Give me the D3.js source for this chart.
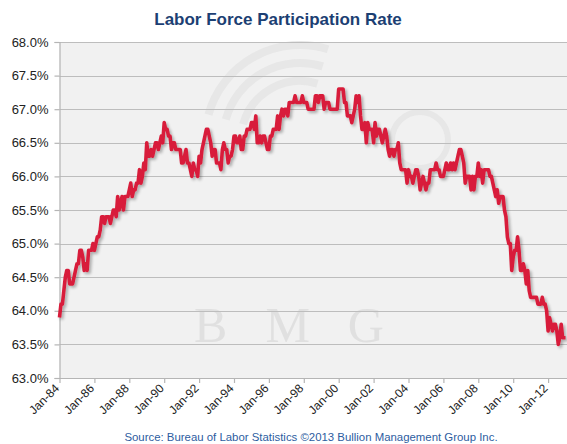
<!DOCTYPE html>
<html><head><meta charset="utf-8">
<script src="https://cdn.jsdelivr.net/npm/d3@7/dist/d3.min.js"></script>
<style>body{margin:0;background:#fff}svg{display:block}</style>
</head><body><svg id="c" width="567" height="444"></svg>
<script>
const chartTitle = "Labor Force Participation Rate";
const sourceNote = "Source: Bureau of Labor Statistics  \u00A92013 Bullion Management Group Inc.";
const startYear = 1984;
// monthly values, Jan-84 .. Jan-13
const rate1980s = [
 63.9,64.1,64.1,64.3,64.5,64.6,64.6,64.4,64.4,64.4,64.5,64.6,
 64.7,64.7,64.9,64.9,64.8,64.6,64.7,64.6,64.9,64.9,64.9,65.0,
 64.9,65.0,65.1,65.1,65.2,65.4,65.4,65.3,65.4,65.4,65.4,65.3,
 65.4,65.5,65.5,65.4,65.7,65.5,65.6,65.7,65.5,65.7,65.7,65.7,
 65.8,65.9,65.7,65.8,65.8,65.9,65.9,66.1,65.9,66.0,66.2,66.1,
 66.5,66.3,66.3,66.4,66.3,66.4,66.5,66.5,66.4,66.5,66.6,66.5];
const rate1990s = [
 66.8,66.7,66.7,66.6,66.6,66.4,66.5,66.5,66.4,66.4,66.4,66.4,
 66.2,66.2,66.3,66.4,66.2,66.2,66.1,66.0,66.2,66.1,66.1,66.0,
 66.3,66.2,66.4,66.5,66.6,66.7,66.7,66.6,66.5,66.3,66.4,66.4,
 66.2,66.2,66.2,66.1,66.4,66.5,66.4,66.4,66.2,66.3,66.3,66.4,
 66.6,66.6,66.5,66.5,66.6,66.4,66.4,66.6,66.6,66.7,66.7,66.7,
 66.8,66.8,66.7,66.9,66.5,66.5,66.6,66.5,66.6,66.6,66.5,66.4,
 66.4,66.6,66.6,66.7,66.7,66.7,66.9,66.7,66.9,67.0,66.9,67.0,
 67.0,66.9,67.1,67.1,67.1,67.1,67.2,67.1,67.1,67.1,67.1,67.2,
 67.1,67.1,67.1,67.0,67.0,67.0,67.0,67.0,67.2,67.2,67.1,67.2,
 67.2,67.2,67.0,67.1,67.1,67.1,67.0,67.0,67.0,67.0,67.0,67.0];
const rate2000s = [
 67.3,67.3,67.3,67.3,67.1,67.1,66.9,66.9,66.9,66.8,66.9,67.0,
 67.2,67.1,67.2,66.9,66.7,66.7,66.8,66.5,66.8,66.7,66.7,66.7,
 66.5,66.8,66.6,66.7,66.7,66.6,66.5,66.6,66.7,66.6,66.4,66.3,
 66.4,66.4,66.3,66.4,66.4,66.5,66.2,66.1,66.1,66.1,66.1,65.9,
 66.1,66.0,66.0,65.9,66.0,66.1,66.1,66.0,65.8,65.9,66.0,65.9,
 65.8,65.9,65.9,66.1,66.1,66.1,66.1,66.2,66.1,66.1,66.0,66.0,
 66.0,66.1,66.2,66.1,66.1,66.2,66.1,66.2,66.1,66.2,66.3,66.4,
 66.4,66.3,66.2,65.9,66.0,66.0,66.0,65.8,66.0,65.8,66.0,66.0,
 66.2,66.0,66.1,65.9,66.1,66.1,66.1,66.1,66.0,66.0,65.9,65.8,
 65.7,65.8,65.6,65.7,65.7,65.7,65.5,65.4,65.1,65.0,65.0,64.6];
const rate2010s = [
 64.8,64.9,64.9,65.1,64.9,64.6,64.6,64.7,64.6,64.4,64.6,64.3,
 64.2,64.2,64.2,64.2,64.2,64.1,64.1,64.1,64.2,64.1,64.1,64.0,
 63.7,63.9,63.8,63.7,63.8,63.8,63.7,63.5,63.6,63.8,63.6,63.6,
 63.6];
const yTicks = [63.0,63.5,64.0,64.5,65.0,65.5,66.0,66.5,67.0,67.5,68.0];
const xTickLabels = ["Jan-84","Jan-86","Jan-88","Jan-90","Jan-92","Jan-94","Jan-96","Jan-98","Jan-00","Jan-02","Jan-04","Jan-06","Jan-08","Jan-10","Jan-12"];

const values = rate1980s.concat(rate1990s, rate2000s, rate2010s);
const data = values.map((v,i)=>({m:i, v:v}));
const xTickMonths = xTickLabels.map((_,i)=>i*24);

const svg = d3.select("#c");
const L = 59.5, R = 567, T = 42, B = 378;
const x = d3.scaleLinear().domain([0, 349]).range([L, R]);
const y = d3.scaleLinear().domain([63, 68]).range([B, T]);

const defs = svg.append("defs");
const f = defs.append("filter").attr("id","sh").attr("x","-5%").attr("y","-5%").attr("width","110%").attr("height","115%");
f.append("feGaussianBlur").attr("in","SourceAlpha").attr("stdDeviation",1.5);
f.append("feOffset").attr("dx",1.5).attr("dy",2).attr("result","ob");
f.append("feComponentTransfer").append("feFuncA").attr("type","linear").attr("slope",0.3);
const fm = f.append("feMerge"); fm.append("feMergeNode"); fm.append("feMergeNode").attr("in","SourceGraphic");

// plot area
svg.append("rect").attr("x",L).attr("y",T).attr("width",R-L).attr("height",B-T).attr("fill","#f1f1f1");

// faint watermark
const wm = svg.append("g").attr("fill","none").attr("stroke","#e7e7e7").attr("stroke-width",8);
[[300,140,95],[300,140,77],[300,140,59]].forEach(([cx,cy,r])=>{
  wm.append("path").attr("d", d3.arc()({innerRadius:r,outerRadius:r,startAngle:-1.3,endAngle:0.3})).attr("transform",`translate(${cx},${cy})`);
});
svg.append("circle").attr("cx",420).attr("cy",140).attr("r",28).attr("fill","none").attr("stroke","#e7e7e7").attr("stroke-width",6);
svg.append("text").attr("x",308).attr("y",342).attr("text-anchor","middle")
  .attr("font-family","'Liberation Serif','DejaVu Serif',serif").attr("font-size",50)
  .attr("letter-spacing",38).attr("fill","#e0e0e0").text("BMG");

// gridlines
svg.append("g").selectAll("line").data(yTicks.filter(d=>d>63)).join("line")
  .attr("x1",L).attr("x2",R).attr("y1",d=>Math.round(y(d))+0.5).attr("y2",d=>Math.round(y(d))+0.5)
  .attr("stroke","#bdbdbd").attr("stroke-width",1.2);

// axes
const ya = svg.append("g").attr("transform",`translate(${L},0)`)
  .call(d3.axisLeft(y).tickValues(yTicks).tickFormat(d=>d.toFixed(1)+"%").tickSize(5).tickPadding(6));
const xa = svg.append("g").attr("transform",`translate(0,${B})`)
  .call(d3.axisBottom(x).tickValues(xTickMonths).tickFormat((d,i)=>xTickLabels[i]).tickSize(5).tickSizeOuter(0));
[ya,xa].forEach(a=>{a.selectAll("path,line").attr("stroke","#b5b5b5").attr("stroke-width",1.2);
  a.selectAll("text").attr("font-family","'Liberation Sans',Arial,sans-serif").attr("fill","#222");});
ya.selectAll("text").attr("font-size",13);
xa.selectAll("text").attr("font-size",12).attr("text-anchor","end")
  .attr("dx",0).attr("dy",0).attr("y",0)
  .attr("transform","translate(0,11) rotate(-45)");

// line
svg.append("path").datum(data)
  .attr("d", d3.line().x(d=>x(d.m)).y(d=>y(d.v)))
  .attr("fill","none").attr("stroke","#d81f3b").attr("stroke-width",3.6)
  .attr("stroke-linejoin","round").attr("filter","url(#sh)");

// title & source
svg.append("text").attr("x",278).attr("y",25).attr("text-anchor","middle")
  .attr("font-family","'Liberation Sans',Arial,sans-serif").attr("font-weight","bold").attr("font-size",17)
  .attr("fill","#1c3f73").text(chartTitle);
svg.append("text").attr("x",311).attr("y",441).attr("text-anchor","middle")
  .attr("font-family","'Liberation Sans',Arial,sans-serif").attr("font-size",11.4)
  .attr("fill","#2d5d9f").text(sourceNote);
</script></body></html>
